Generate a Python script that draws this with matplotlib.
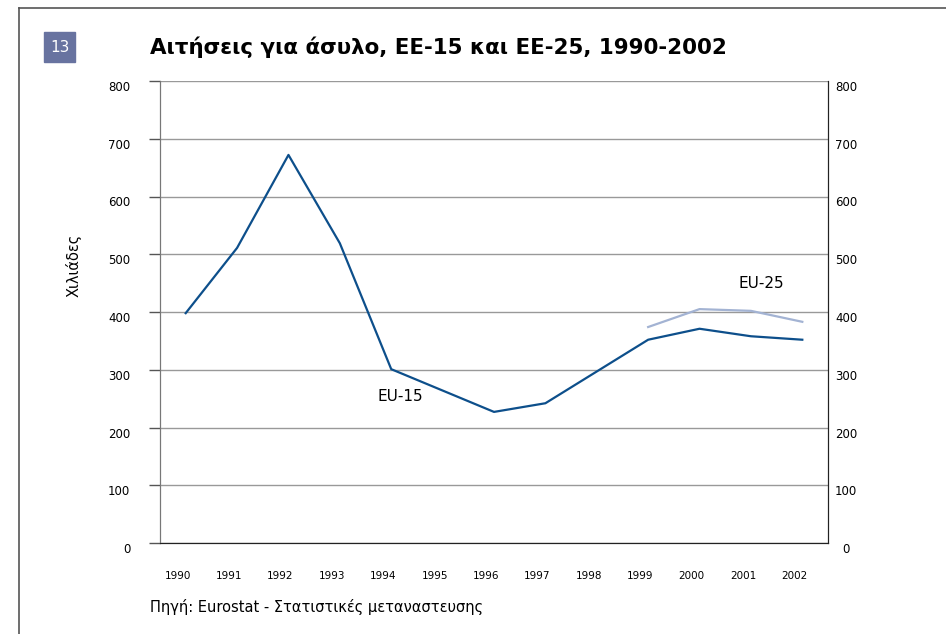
import matplotlib.pyplot as plt
from matplotlib.lines import Line2D
from matplotlib.patches import Rectangle
from matplotlib.transforms import ScaledTranslation

# Data (thousands of asylum applications)
years = ["1990", "1991", "1992", "1993", "1994", "1995", "1996",
         "1997", "1998", "1999", "2000", "2001", "2002"]
eu15 = [398, 511, 672, 519, 301, 264, 227, 242, 297, 352, 371, 358, 352]
eu25_years = ["1999", "2000", "2001", "2002"]
eu25 = [374, 405, 402, 383]

fig = plt.figure(figsize=(9.46, 6.34), dpi=100)
ax = fig.add_axes([160 / 946, 1 - 543 / 634, 668 / 946, 462 / 634])

x15 = list(range(len(years)))
x25 = [years.index(y) for y in eu25_years]
ax.plot(x15, eu15, color="#0d4f8b", lw=1.6, zorder=3)
ax.plot(x25, eu25, color="#a3b3d3", lw=1.6, zorder=3)

ax.set_xlim(-0.5, len(years) - 0.5)
ax.set_ylim(0, 800)
ax.set_yticks(range(0, 801, 100))
ax.set_xticks(x15)
ax.set_xticklabels(years, fontsize=7.5)
ax.tick_params(axis="x", length=0, pad=20)
ax.tick_params(axis="y", direction="out", length=8, width=1, color="#555555",
               labelsize=8.5, pad=13.5)
ax.grid(axis="y", color="#999999", lw=1)
ax.set_axisbelow(True)

# shift year labels a bit to the left, as in the original
for lbl in ax.get_xticklabels():
    lbl.set_transform(lbl.get_transform() + ScaledTranslation(-0.08, 0, fig.dpi_scale_trans))

# right axis with the same scale
ax2 = ax.twinx()
ax2.set_ylim(0, 800)
ax2.set_yticks(range(0, 801, 100))
ax2.tick_params(axis="y", length=0, labelsize=8.5, pad=13)
for lbl in ax2.get_yticklabels():
    lbl.set_ha("center")
    lbl.set_va("top")
for lbl in ax.get_yticklabels():
    lbl.set_va("top")

for a in [ax, ax2]:
    a.spines["left"].set_color("#777777")
    a.spines["bottom"].set_color("#222222")
    a.spines["right"].set_color("#222222")
    a.spines["top"].set_visible(False)

ax.set_ylabel("Χιλιάδες", fontsize=10.5)
ax.yaxis.set_label_coords(-0.118, 0.6)

ax.text(4.17, 253, "EU-15", fontsize=11, ha="center", va="center")
ax.text(11.21, 450, "EU-25", fontsize=11, ha="center", va="center")

# Title, badge and source
fig.text(150 / 946, 1 - 47 / 634, "Αιτήσεις για άσυλο, ΕΕ-15 και ΕΕ-25, 1990-2002",
         fontsize=15.4, fontweight="bold", va="center")
fig.patches.append(Rectangle((44 / 946, 1 - 62 / 634), 31 / 946, 30 / 634,
                             transform=fig.transFigure, color="#6873a0"))
fig.text(59.5 / 946, 1 - 47 / 634, "13", color="white", fontsize=11,
         ha="center", va="center")
fig.text(150 / 946, 1 - 607 / 634, "Πηγή: Eurostat - Στατιστικές μεταναστευσης",
         fontsize=10.5, va="center")

# Frame
fig.lines.append(Line2D([19 / 946, 19 / 946], [0, 1 - 8 / 634],
                        transform=fig.transFigure, color="#555555", lw=1.2))
fig.lines.append(Line2D([19 / 946, 1], [1 - 8 / 634, 1 - 8 / 634],
                        transform=fig.transFigure, color="#555555", lw=1.2))

fig.savefig("out.png", dpi=100)
